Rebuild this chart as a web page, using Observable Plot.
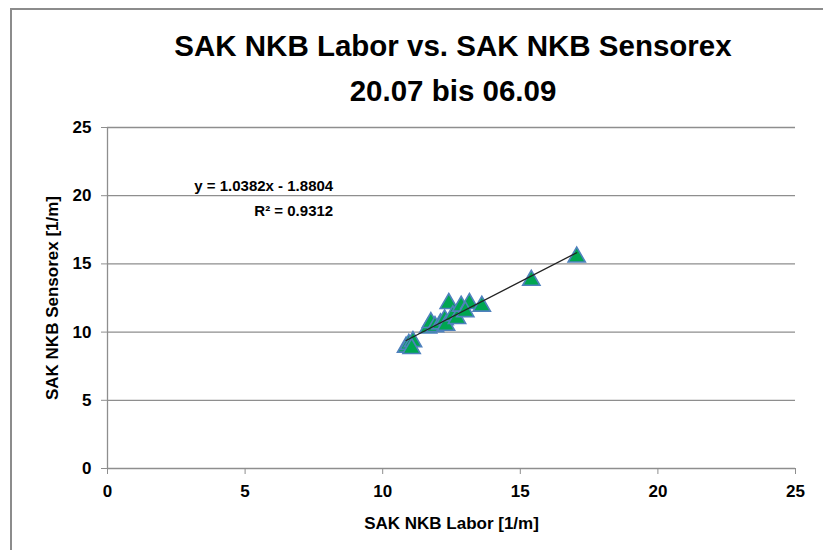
<!DOCTYPE html>
<html>
<head>
<meta charset="utf-8">
<script src="https://cdn.jsdelivr.net/npm/d3@7"></script>
<script src="https://cdn.jsdelivr.net/npm/@observablehq/plot@0.6"></script>
<style>
  html, body { margin: 0; padding: 0; background: #fff; overflow: hidden; }
  #page { position: relative; width: 823px; height: 550px; overflow: hidden; }
  #frame { position: absolute; left: 10px; top: 8px; width: 1000px; height: 1000px; border: 2px solid #8c8c8c; box-sizing: border-box; }
  #title { position: absolute; left: 0; top: 0; width: 823px; height: 110px; box-sizing: border-box; padding-top: 23px; padding-left: 83px; text-align: center;
    font-family: "Liberation Sans", Arial, sans-serif; font-weight: bold; font-size: 29.5px; line-height: 45px; color: #000; }
  #chart { position: absolute; left: 0; top: 110px; }
</style>
</head>
<body>
<div id="page">
  <div id="frame"></div>
  <div id="title">SAK NKB Labor vs. SAK NKB Sensorex<br>20.07 bis 06.09</div>
  <div id="chart"></div>
</div>
<script>
// Data
const labor    = [10.85, 10.95, 11.1, 11.05, 11.65, 11.75, 11.9, 12.1, 12.25, 12.3, 12.4, 12.55, 12.7, 12.85, 13.15, 13.0, 13.6, 15.4, 17.05];
const sensorex = [8.9,   9.1,   9.3,  8.8,   10.3,  10.7,  10.4, 10.6, 10.9,  10.5, 12.1, 11.2,  11.0, 11.9,  12.1,  11.5, 11.9, 13.8, 15.5];
const xTicks = [0, 5, 10, 15, 20, 25];
const yTicks = [0, 5, 10, 15, 20, 25];
const slope = 1.0382;
const intercept = -1.8804;
const r2 = 0.9312;
const xTitle = "SAK NKB Labor [1/m]";
const yTitle = "SAK NKB Sensorex [1/m]";

const points = labor.map((x, i) => ({x, y: sensorex[i]}));
const xMin = d3.min(labor), xMax = d3.max(labor);
const trend = [xMin, xMax].map(x => ({x, y: slope * x + intercept}));
const eqLines = [
  {x: 8.2, y: 20.7, text: `y = ${slope}x - ${Math.abs(intercept)}`},
  {x: 8.2, y: 18.9, text: `R² = ${r2}`}
];

const font = '"Liberation Sans", Arial, sans-serif';
const chart = Plot.plot({
  width: 823,
  height: 440,
  marginTop: 17,
  marginLeft: 107,
  marginRight: 28,
  marginBottom: 82,
  x: {domain: [0, 25]},
  y: {domain: [0, 25]},
  style: {fontFamily: font, background: "transparent", overflow: "visible"},
  marks: [
    Plot.gridY(yTicks.filter(d => d > 0), {stroke: "#8e8e8e", strokeOpacity: 1, strokeWidth: 1.3}),
    Plot.ruleY([0], {stroke: "#8e8e8e", strokeWidth: 1.3}),
    Plot.ruleX([0], {stroke: "#8e8e8e", strokeWidth: 1.3}),
    Plot.axisY(yTicks, {tickSize: 6, tickPadding: 10, stroke: "#8e8e8e", fill: "#000", fontSize: 17, fontWeight: "bold", label: null}),
    Plot.axisX(xTicks, {tickSize: 6, tickPadding: 10, stroke: "#8e8e8e", fill: "#000", fontSize: 17, fontWeight: "bold", label: null}),
    Plot.dot(points, {x: "x", y: "y", symbol: "triangle", r: 6.4, fill: "#00a651", stroke: "#4f81bd", strokeWidth: 1.6}),
    Plot.line(trend, {x: "x", y: "y", stroke: "#222", strokeWidth: 1.3}),
    Plot.text(eqLines, {x: "x", y: "y", text: "text", textAnchor: "end", fontSize: 15, fontWeight: "bold", fill: "#000"}),
    Plot.text([{x: 12.5, y: 0, t: xTitle}], {x: "x", y: "y", text: "t", dy: 55, fontSize: 17, fontWeight: "bold", fill: "#000"}),
    Plot.text([{x: 0, y: 12.5, t: yTitle}], {x: "x", y: "y", text: "t", dx: -55, rotate: -90, fontSize: 17, fontWeight: "bold", fill: "#000"})
  ]
});
document.getElementById("chart").appendChild(chart);
</script>
</body>
</html>
